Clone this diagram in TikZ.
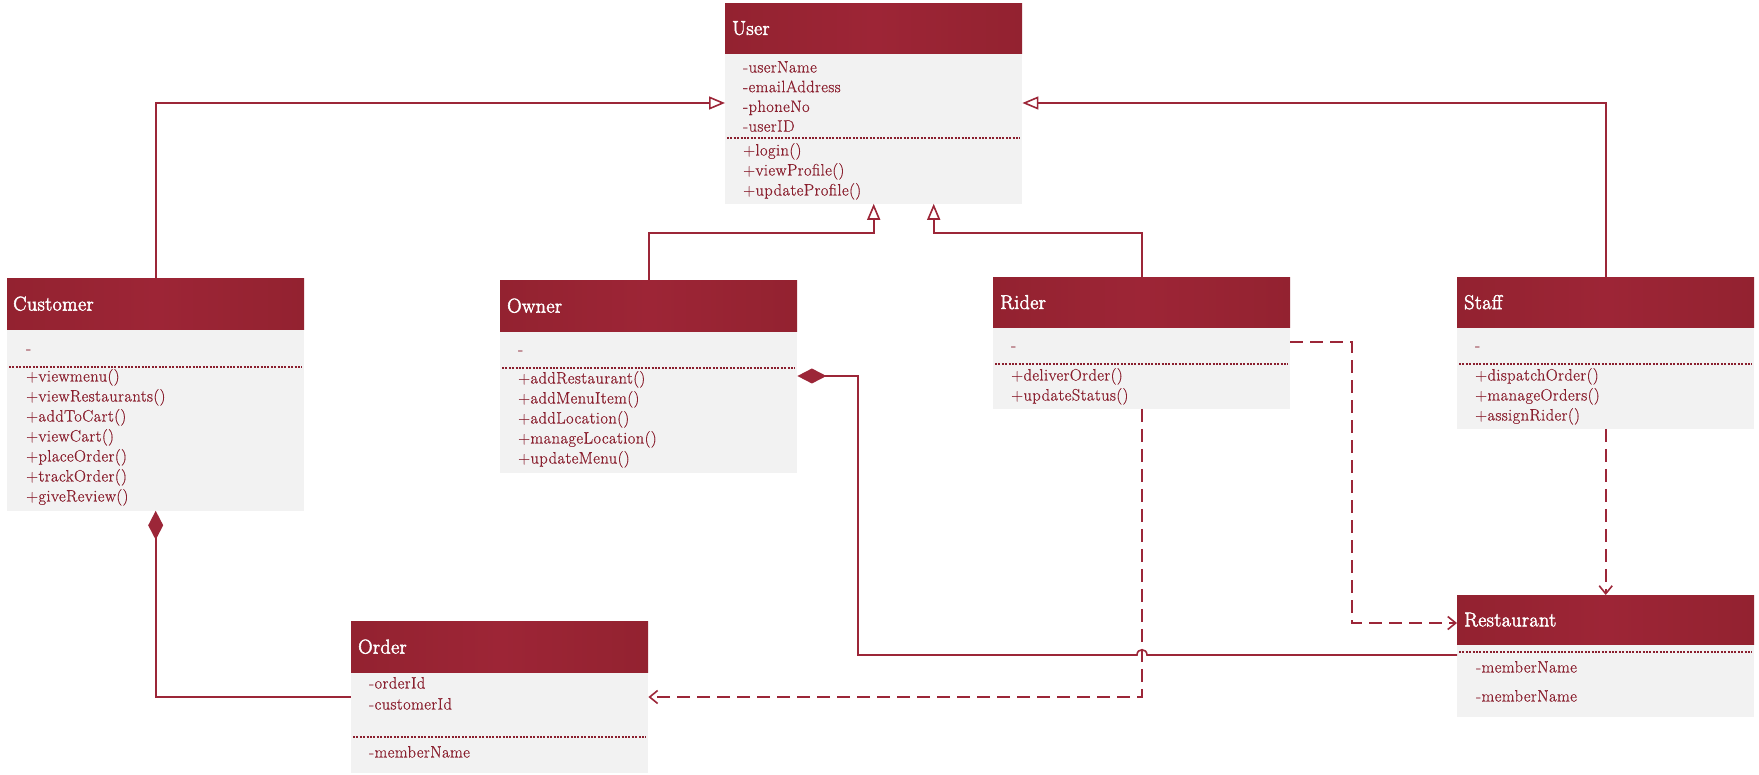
\documentclass[tikz,border=0pt]{standalone}
\usepackage{fontspec}
\newfontfamily\titlefont{Latin Modern Roman}[FakeBold=2.5, LetterSpace=2]
\newfontfamily\memberfont{Latin Modern Roman}[FakeBold=0.6, LetterSpace=2.5]
\usetikzlibrary{arrows.meta}

\definecolor{hdrDark}{HTML}{932230}
\definecolor{hdrLight}{HTML}{9D2536}
\definecolor{bodyFill}{HTML}{F2F2F2}
\definecolor{ink}{HTML}{8A1F2E}
\definecolor{wire}{HTML}{9C2638}

\tikzset{
  hdr/.style={anchor=north west, inner sep=0pt, minimum width=297pt, minimum height=50pt,
    left color=hdrDark, right color=hdrDark, middle color=hdrLight},
  bodybox/.style={anchor=north west, inner sep=0pt, minimum width=297pt, fill=bodyFill},
  title/.style={anchor=west, text=white, font=\titlefont\fontsize{20}{22}\selectfont, inner sep=0pt},
  member/.style={anchor=west, text=ink, font=\memberfont\fontsize{16.5}{19}\selectfont, inner sep=0pt,
    text height=10.5pt, text depth=3.5pt},
  sepline/.style={draw=ink, line width=1.1pt, dash pattern=on 2pt off 1.4pt},
  gen/.style={draw=wire, line width=1.6pt, -{Triangle[open, length=16pt, width=13pt]}},
  dep/.style={draw=wire, line width=1.6pt, dash pattern=on 13pt off 7pt,
    -{Straight Barb[length=8pt, width=13pt]}},
  comp/.style={draw=wire, line width=1.6pt, {Diamond[length=29pt, width=15pt]}-},
}

\begin{document}
\begin{tikzpicture}[x=1pt, y=-1pt]
\useasboundingbox (0,0) rectangle (1759,775);

% ---------- User ----------
\node[hdr] (userH) at (725,3) {};
\node[title] (userT) at ([xshift=7pt]userH.west) {User};
\node[bodybox, minimum height=150pt] (userB) at (userH.south west) {};
\foreach \t [count=\k from 0] in {-userName,-emailAddress,-phoneNo,-userID}
  \node[member] (userA\k) at (743,{69+19.7*\k}) {\t};
\draw[sepline] (727,138) -- (1020,138);
\foreach \t [count=\k from 0] in {+login(),+viewProfile(),+updateProfile()}
  \node[member] (userM\k) at (743,{152+20*\k}) {\t};

% ---------- Customer ----------
\node[hdr, minimum height=51pt] (custH) at (7,278) {};
\node[title] (custT) at ([xshift=6pt]custH.west) {Customer};
\node[bodybox, minimum height=181pt] (custB) at (custH.south west) {};
\node[member] (custA0) at (26,350) {-};
\draw[sepline] (9,367) -- (302,367);
\foreach \t [count=\k from 0] in {+viewmenu(),+viewRestaurants(),+addToCart(),+viewCart(),+placeOrder(),+trackOrder(),+giveReview()}
  \node[member] (custM\k) at (26,{378+20*\k}) {\t};

% ---------- Owner ----------
\node[hdr, minimum height=51pt] (ownerH) at (500,280) {};
\node[title] (ownerT) at ([xshift=7pt]ownerH.west) {Owner};
\node[bodybox, minimum height=141pt] (ownerB) at (ownerH.south west) {};
\node[member] (ownerA0) at (518,351) {-};
\draw[sepline] (502,368) -- (795,368);
\foreach \t [count=\k from 0] in {+addRestaurant(),+addMenuItem(),+addLocation(),+manageLocation(),+updateMenu()}
  \node[member] (ownerM\k) at (518,{380+20*\k}) {\t};

% ---------- Rider ----------
\node[hdr] (riderH) at (993,277) {};
\node[title] (riderT) at ([xshift=7pt]riderH.west) {Rider};
\node[bodybox, minimum height=81pt] (riderB) at (riderH.south west) {};
\node[member] (riderA0) at (1011,347) {-};
\draw[sepline] (995,364) -- (1288,364);
\foreach \t [count=\k from 0] in {+deliverOrder(),+updateStatus()}
  \node[member] (riderM\k) at (1011,{377+20*\k}) {\t};

% ---------- Staff ----------
\node[hdr] (staffH) at (1457,277) {};
\node[title] (staffT) at ([xshift=7pt]staffH.west) {Staff};
\node[bodybox, minimum height=101pt] (staffB) at (staffH.south west) {};
\node[member] (staffA0) at (1475,347) {-};
\draw[sepline] (1459,364) -- (1752,364);
\foreach \t [count=\k from 0] in {+dispatchOrder(),+manageOrders(),+assignRider()}
  \node[member] (staffM\k) at (1475,{377+20*\k}) {\t};

% ---------- Order ----------
\node[hdr, minimum height=51pt] (orderH) at (351,621) {};
\node[title] (orderT) at ([xshift=7pt]orderH.west) {Order};
\node[bodybox, minimum height=100pt] (orderB) at (orderH.south west) {};
\node[member] (orderA0) at (369,685) {-orderId};
\node[member] (orderA1) at (369,706) {-customerId};
\draw[sepline] (353,737) -- (646,737);
\node[member] (orderM0) at (369,754) {-memberName};

% ---------- Restaurant ----------
\node[hdr, minimum height=49pt] (restH) at (1457,595) {};
\node[title] (restT) at ([xshift=7pt]restH.west) {Restaurant};
\node[bodybox, minimum height=72pt] (restB) at (restH.south west) {};
\draw[sepline] (1459,652) -- (1752,652);
\node[member] (restA0) at (1476,669) {-memberName};
\node[member] (restA1) at (1476,698) {-memberName};

% ---------- routing levels ----------
\coordinate (yTop)  at (0,103);
\coordinate (yMid)  at (0,233);
\coordinate (yOrd)  at (0,697);
\coordinate (yRout) at (0,342);
\coordinate (yRin)  at (0,623);
\coordinate (yOwn)  at (0,376);
\coordinate (yComp) at (0,655);
\coordinate (bendR) at (1352,0);
\coordinate (bendO) at (858,0);
\coordinate (uRider) at ([xshift=60pt]userB.south);
\coordinate (jumpL) at (1137,655);
\coordinate (jumpR) at (1147,655);

% ---------- generalisations ----------
\draw[gen] (custH.north) |- (userB.west |- yTop);
\draw[gen] (staffH.north) |- (userB.east |- yTop);
\draw[gen] (ownerH.north) |- (userB.south |- yMid) -- (userB.south);
\draw[gen] (riderH.north) |- (uRider |- yMid) -- (uRider);

% ---------- dependencies ----------
\draw[dep] (riderB.south) |- (orderB.east |- yOrd);
\draw[dep] (riderB.east |- yRout) -| (bendR |- yRin) -- (restH.west |- yRin);
\draw[dep] (staffB.south) -- (restH.north);

% ---------- compositions ----------
\draw[comp] (custB.south) |- (orderB.west |- yOrd);
\draw[comp] (ownerB.east |- yOwn) -| (bendO |- yComp) -- (jumpL)
  .. controls +(0,-7) and +(0,-7) .. (jumpR) -- (restB.west |- yComp);
\end{tikzpicture}
\end{document}
